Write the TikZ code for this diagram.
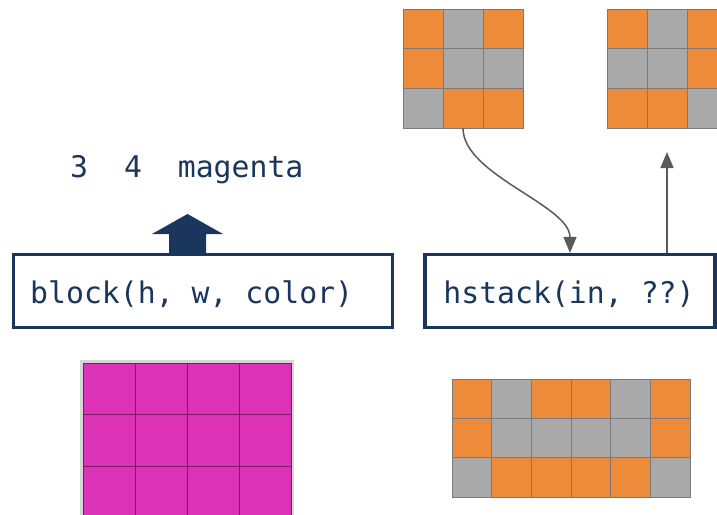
\documentclass[tikz,border=0pt]{standalone}
\usepackage{fontspec}
\setmonofont{DejaVu Sans Mono}
\usetikzlibrary{arrows.meta}
\definecolor{O}{HTML}{ED8B3A}
\definecolor{G}{HTML}{A9A9A9}
\definecolor{M}{HTML}{DC32B6}
\definecolor{navy}{HTML}{1B365D}
\definecolor{conngray}{HTML}{5A5A5A}
\newcommand\drawgridcells[6]{% x0,y0,w,h,linecolor,rows
  \foreach \rowlist [count=\rr from 0] in {#6} {
    \foreach \cc [count=\kk from 0] in \rowlist {
      \fill[\cc] ({#1+\kk*#3},{#2+\rr*#4}) rectangle ++(#3,#4);
      \draw[#5, line width=0.8pt] ({#1+\kk*#3},{#2+\rr*#4}) rectangle ++(#3,#4);
    }
  }
}
\tikzset{
  codebox/.style={draw=navy, line width=3.2pt, fill=white, inner sep=0pt},
  codetext/.style={text=navy, font=\ttfamily\fontsize{29.8}{34}\selectfont, inner sep=0pt},
  gridarea/.style={inner sep=0pt, draw=none},
  conn/.style={draw=conngray, line width=1.5pt, -{Triangle[length=16pt,width=13pt]}},
}
\begin{document}
\begin{tikzpicture}[x=1pt,y=-1pt]
\useasboundingbox (0,0) rectangle (717,514);
\fill[white] (0,0) rectangle (717,514);

% grid placeholders
\node[gridarea, minimum width=120pt, minimum height=119pt] (tlgrid) at (463,68.5) {};
\node[gridarea, minimum width=120pt, minimum height=119pt] (trgrid) at (667,68.5) {};
\node[gridarea, minimum width=238pt, minimum height=118pt] (brgrid) at (571,438) {};
\node[gridarea, minimum width=208pt, minimum height=155pt] (mggrid) at (187,440.5) {};

% top-left grid
\drawgridcells{403}{9}{40}{39.7}{G!72!black}{{O,G,O},{O,G,G},{G,O,O}}
% top-right grid
\drawgridcells{607}{9}{40}{39.7}{G!72!black}{{O,G,O},{G,G,O},{O,O,G}}
% bottom-right grid
\drawgridcells{452}{379}{39.7}{39.3}{G!72!black}{{O,G,O,O,G,O},{O,G,G,G,G,O},{G,O,O,O,O,G}}
% magenta grid
\draw[black!16, line width=3pt] (81.5,361.5) rectangle (292.5,530);
\drawgridcells{83}{363}{52}{51.5}{M!55!black}{{M,M,M,M},{M,M,M,M},{M,M,M,M}}

% boxes
\node[codebox, minimum width=379pt, minimum height=73pt] (blockbox) at (203,291) {};
\node[codetext, anchor=base west] (blocktext) at (30,303) {block(h, w, color)};
\node[codebox, minimum width=290pt, minimum height=73pt] (hs) at (570,291) {};
\node[codetext, anchor=base] (hstext) at (569,303) {hstack(in, ??)};

% args text
\node[codetext, anchor=base west] (args) at (70,177) {3\ \ 4\ \ magenta};

% block arrow
\fill[navy] (169,253) -- (169,234) -- (152,234) -- (187.5,214) -- (223,234) -- (206,234) -- (206,253) -- cycle;

% connectors
\coordinate (uptip) at (667,152);
\draw[conn] (tlgrid.south) .. controls (463,175) and (570,205) .. (hs.north);
\draw[conn] (hs.north -| trgrid.south) -- (uptip);
\end{tikzpicture}
\end{document}
